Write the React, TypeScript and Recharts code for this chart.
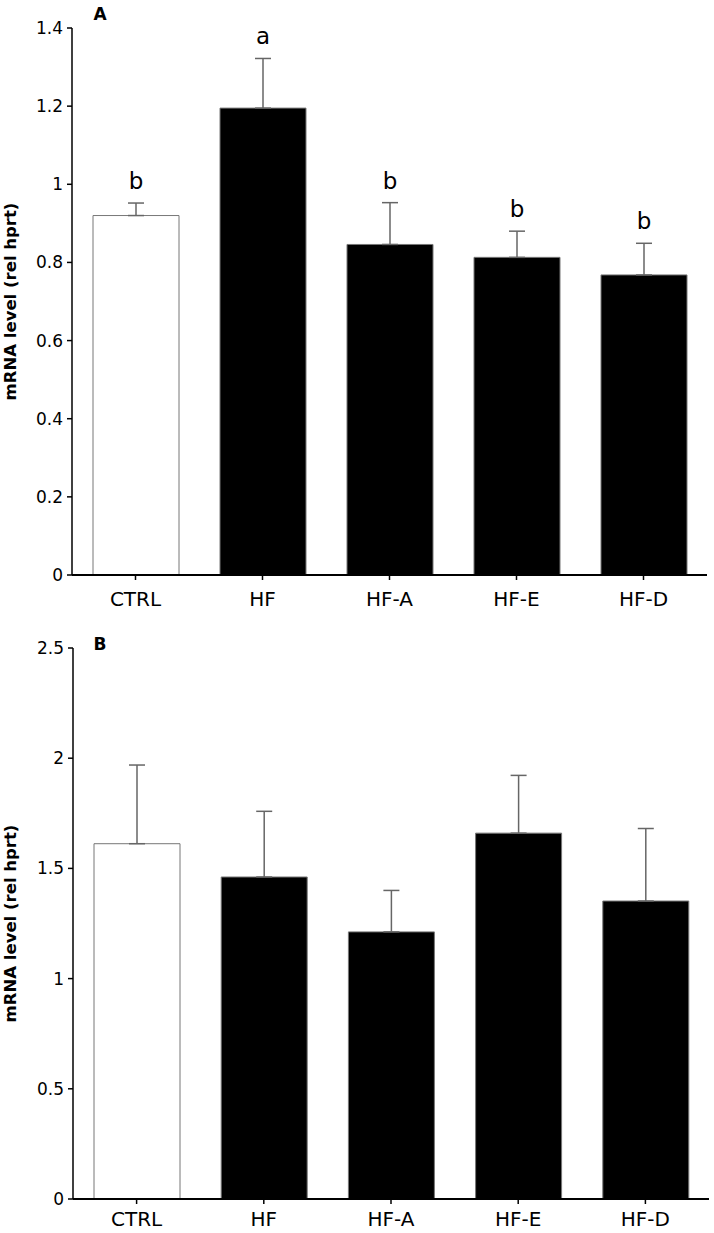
import React from "react";
import { ComposedChart, Bar, XAxis, YAxis, ErrorBar, LabelList, Cell, Customized } from "recharts";

const categories = ["CTRL", "HF", "HF-A", "HF-E", "HF-D"];
const barColors = ["#ffffff", "#000000", "#000000", "#000000", "#000000"];

const valuesA = [0.92, 1.195, 0.846, 0.813, 0.768];
const errorsA = [0.032, 0.127, 0.107, 0.067, 0.081];
const lettersA = ["b", "a", "b", "b", "b"];
const ticksA = [0, 0.2, 0.4, 0.6, 0.8, 1, 1.2, 1.4];

const valuesB = [1.612, 1.461, 1.212, 1.66, 1.352];
const errorsB = [0.357, 0.298, 0.188, 0.262, 0.329];
const ticksB = [0, 0.5, 1, 1.5, 2, 2.5];

const FONT = "'DejaVu Sans', Arial, sans-serif";

const dataA = categories.map((c, i) => ({ name: c, value: valuesA[i], err: [0, errorsA[i]] }));
const dataB = categories.map((c, i) => ({ name: c, value: valuesB[i], err: [0, errorsB[i]] }));

const yLabel = (props: any) => {
  const vb = props.viewBox || {};
  const cy = vb.y + vb.height / 2;
  const x = 16;
  return (
    <text
      x={x}
      y={cy}
      transform={`rotate(-90, ${x}, ${cy})`}
      textAnchor="middle"
      fontFamily={FONT}
      fontWeight="bold"
      fontSize={16.5}
      fill="#000"
    >
      mRNA level (rel hprt)
    </text>
  );
};

const letterContent = (props: any) => {
  const { x, y, width, height, index } = props;
  const v = valuesA[index];
  const ppu = height / v;
  const ty = y - errorsA[index] * ppu - 14;
  return (
    <text x={x + width / 2} y={ty} textAnchor="middle" fontFamily={FONT} fontSize={23} fill="#000">
      {lettersA[index]}
    </text>
  );
};

function Panel({ data, ticks, domainMax, height, margin, xAxisHeight, tickMargin, tag, tagY, withLetters }: any) {
  return (
    <ComposedChart width={714} height={height} data={data} margin={margin}>
      <XAxis
        dataKey="name"
        height={xAxisHeight}
        axisLine={{ stroke: "#000", strokeWidth: 2 }}
        tickLine={{ stroke: "#000", strokeWidth: 1.5 }}
        tickSize={5}
        tickMargin={tickMargin}
        tick={{ fill: "#000", fontSize: 20, fontFamily: FONT }}
        interval={0}
      />
      <YAxis
        width={50}
        domain={[0, domainMax]}
        ticks={ticks}
        allowDataOverflow
        axisLine={{ stroke: "#000", strokeWidth: 1.5 }}
        tickLine={{ stroke: "#000", strokeWidth: 1.5 }}
        tickSize={5}
        tickMargin={4}
        tick={{ fill: "#000", fontSize: 17, fontFamily: FONT }}
        label={yLabel}
      />
      <Bar dataKey="value" barSize={86} stroke="#777" strokeWidth={1} isAnimationActive={false}>
        {data.map((_: any, i: number) => (
          <Cell key={i} fill={barColors[i]} />
        ))}
        <ErrorBar dataKey="err" direction="y" width={8} stroke="#666" strokeWidth={1.5} isAnimationActive={false} />
        {withLetters ? <LabelList dataKey="value" content={letterContent} /> : null}
      </Bar>
      <Customized
        component={() => (
          <text x={100} y={tagY} textAnchor="middle" fontFamily={FONT} fontWeight="bold" fontSize={17} fill="#000">
            {tag}
          </text>
        )}
      />
    </ComposedChart>
  );
}

export default function App() {
  return (
    <div style={{ position: "absolute", left: 0, top: 0, width: 714, height: 1233, background: "#fff" }}>
      <Panel
        data={dataA}
        ticks={ticksA}
        domainMax={1.4}
        height={615}
        margin={{ top: 28, right: 7, left: 22, bottom: 0 }}
        xAxisHeight={40}
        tickMargin={12}
        tag="A"
        tagY={20}
        withLetters
      />
      <Panel
        data={dataB}
        ticks={ticksB}
        domainMax={2.5}
        height={618}
        margin={{ top: 33, right: 5, left: 23, bottom: 0 }}
        xAxisHeight={34}
        tickMargin={8}
        tag="B"
        tagY={35}
        withLetters={false}
      />
    </div>
  );
}
